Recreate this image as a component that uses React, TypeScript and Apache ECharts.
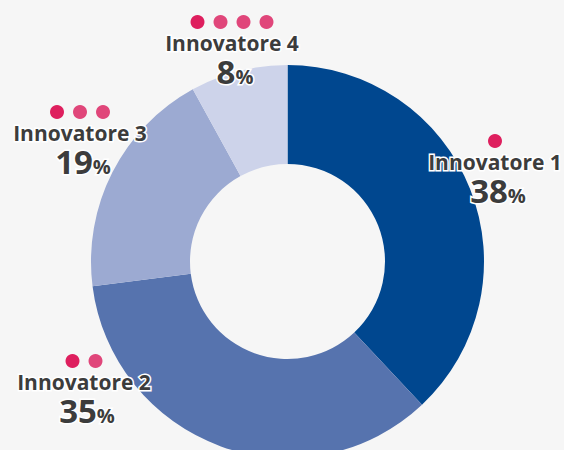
import React, { useEffect, useRef } from "react";
import * as echarts from "echarts";

const categories = ["Innovatore 1", "Innovatore 2", "Innovatore 3", "Innovatore 4"];
const values = [38, 35, 19, 8];
const dotCounts = [1, 2, 3, 4];
const colors = ["#00478f", "#5673ae", "#9caad2", "#cdd3ea"];
// label anchor positions (center x, y of name line)
const labelPos: [number, number][] = [
  [495, 162],
  [84, 382],
  [80, 133],
  [232, 43],
];

export default function App() {
  const ref = useRef<HTMLDivElement>(null);
  useEffect(() => {
    document.body.style.margin = "0";
    document.body.style.background = "#f6f6f6";
    const chart = echarts.init(ref.current!, undefined, { renderer: "svg" });
    const font = "'Open Sans', 'Noto Sans', sans-serif";
    const graphics: any[] = [];
    categories.forEach((name, i) => {
      const [cx, cy] = labelPos[i];
      const n = dotCounts[i];
      const gap = 23;
      for (let k = 0; k < n; k++) {
        graphics.push({
          type: "circle",
          shape: { cx: cx + (k - (n - 1) / 2) * gap, cy: cy - 21, r: 7 },
          style: { fill: k === 0 ? "#de1f5e" : "#e0467a" },
          z: 10,
        });
      }
      graphics.push({
        type: "text",
        x: cx,
        y: cy,
        z: 10,
        style: {
          text: name,
          x: 0,
          y: 0,
          align: "center",
          verticalAlign: "middle",
          fill: "#3c3c3c",
          font: `bold 21px ${font}`,
          lineHeight: 22,
          stroke: "#ffffff",
          lineWidth: 3,
        },
      });
      graphics.push({
        type: "text",
        x: cx + 3,
        y: cy + 28,
        z: 10,
        style: {
          text: `{a|${values[i]}}{b|%}`,
          align: "center",
          verticalAlign: "middle",
          rich: {
            a: {
              fontFamily: font,
              fontWeight: "bold",
              fontSize: 33,
              lineHeight: 30,
              fill: "#3c3c3c",
              stroke: "#ffffff",
              lineWidth: 3,
            },
            b: {
              fontFamily: font,
              fontWeight: "bold",
              fontSize: 20,
              lineHeight: 30,
              fill: "#3c3c3c",
              stroke: "#ffffff",
              lineWidth: 3,
              verticalAlign: "bottom",
            },
          },
        },
      });
    });
    chart.setOption({
      animation: false,
      backgroundColor: "#f6f6f6",
      series: [
        {
          type: "pie",
          center: [287.5, 261.5],
          radius: [97.5, 196.5],
          startAngle: 90,
          clockwise: true,
          label: { show: false },
          labelLine: { show: false },
          itemStyle: { borderWidth: 0 },
          data: categories.map((c, i) => ({
            name: c,
            value: values[i],
            itemStyle: { color: colors[i] },
          })),
        },
      ],
      graphic: graphics,
    });
    return () => chart.dispose();
  }, []);
  return <div ref={ref} style={{ width: 564, height: 450 }} />;
}
